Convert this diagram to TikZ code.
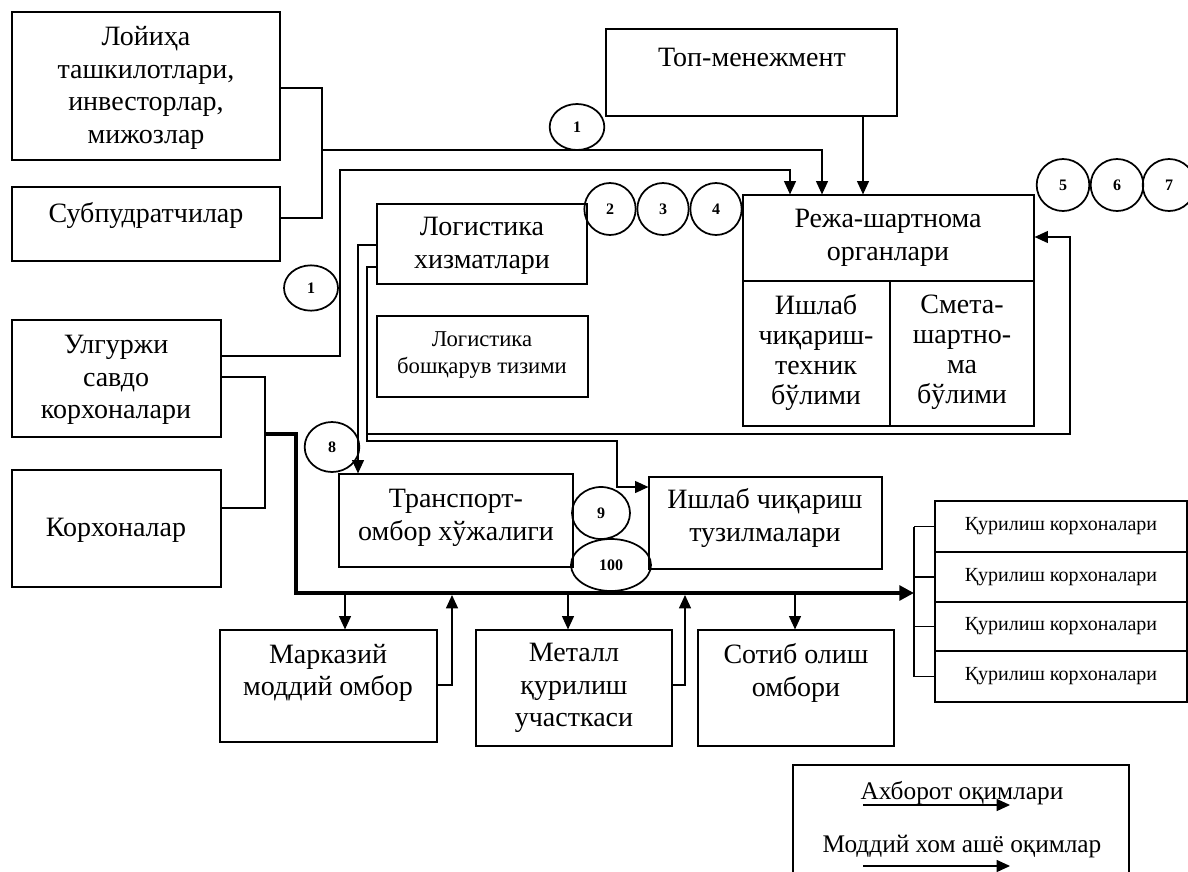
\documentclass[tikz,border=0pt]{standalone}
\usepackage{fontspec}
\setmainfont{Liberation Serif}
\usetikzlibrary{arrows.meta,shapes.geometric,fit}
\begin{document}
\begin{tikzpicture}[x=0.75pt,y=-0.75pt,
  bx/.style={draw, line width=0.9pt, inner sep=0pt},
  txt/.style={align=center, inner sep=0pt, font=\fontsize{21}{24.5}\selectfont},
  smalltxt/.style={align=center, inner sep=0pt, font=\fontsize{17}{20}\selectfont},
  qtxt/.style={align=center, inner sep=0pt, font=\fontsize{15}{18}\selectfont},
  legtxt/.style={align=center, inner sep=0pt, font=\fontsize{19}{22}\selectfont},
  circ/.style={draw, ellipse, line width=1.3pt, inner sep=0pt, font=\fontsize{12}{13}\selectfont\bfseries},
  ln/.style={line width=0.9pt},
  arr/.style={ln, -{Triangle[length=10pt,width=9pt]}},
  thk/.style={line width=3.5pt, -{Triangle[length=11pt,width=11pt]}}]
\useasboundingbox (0,0) rectangle (1188,871);

% boxes
\node[bx, fit={(12,12)(280,160)}] (lo) {};
\node[txt] (tlo) at (146,88) {Лойиҳа\\ташкилотлари,\\инвесторлар,\\мижозлар};
\node[bx, fit={(12,187)(280,261)}] (sub) {};
\node[txt] (tsub) at (146,215) {Субпудратчилар};
\node[bx, fit={(606,29)(897,116)}] (top) {};
\node[txt] (ttop) at (752,57) {Топ-менежмент};
\node[bx, fit={(743,195)(1034,281)}] (rez) {};
\node[txt] (trez) at (888,238) {Режа-шартнома\\органлари};
\node[bx, fit={(743,281)(890,426)}] (rezl) {};
\node[txt, font=\fontsize{21}{22.5}\selectfont] (trezl) at (816,352) {Ишлаб\\чиқариш-\\техник\\бўлими};
\node[bx, fit={(890,281)(1034,426)}] (rezr) {};
\node[txt, font=\fontsize{21}{22.5}\selectfont] (trezr) at (962,352) {Смета-\\шартно-\\ма\\бўлими};
\node[bx, fit={(377,204)(587,284)}] (log) {};
\node[txt] (tlog) at (482,246) {Логистика\\хизматлари};
\node[bx, fit={(377,316)(588,397)}] (lbs) {};
\node[smalltxt] (tlbs) at (482,355) {Логистика\\бошқарув тизими};
\node[bx, fit={(12,320)(221,437)}] (ul) {};
\node[txt] (tul) at (116,380) {Улгуржи\\савдо\\корхоналари};
\node[bx, fit={(12,470)(221,587)}] (kor) {};
\node[txt] (tkor) at (116,530) {Корхоналар};
\node[bx, fit={(339,474)(573,567)}] (tr) {};
\node[txt] (ttr) at (456,518) {Транспорт-\\омбор хўжалиги};
\node[bx, fit={(649,477)(882,569)}] (ish) {};
\node[txt] (tish) at (765,518) {Ишлаб чиқариш\\тузилмалари};
\node[bx, fit={(220,630)(437,742)}] (mar) {};
\node[txt] (tmar) at (328,673) {Марказий\\моддий омбор};
\node[bx, fit={(476,630)(672,746)}] (met) {};
\node[txt] (tmet) at (574,688) {Металл\\қурилиш\\участкаси};
\node[bx, fit={(698,630)(894,746)}] (sot) {};
\node[txt] (tsot) at (796,673) {Сотиб олиш\\омбори};
\node[bx, fit={(935,501)(1187,552)}] (q1) {};
\node[bx, fit={(935,552)(1187,602)}] (q2) {};
\node[bx, fit={(935,602)(1187,651)}] (q3) {};
\node[bx, fit={(935,651)(1187,702)}] (q4) {};
\node[qtxt] (tq1) at (q1.center) {Қурилиш корхоналари};
\node[qtxt] (tq2) at (q2.center) {Қурилиш корхоналари};
\node[qtxt] (tq3) at (q3.center) {Қурилиш корхоналари};
\node[qtxt] (tq4) at (q4.center) {Қурилиш корхоналари};

% circles
\node[circ, minimum width=41pt, minimum height=34.5pt] (c1a) at (577,127) {1};
\node[circ, minimum width=40.5pt, minimum height=34pt] (c1b) at (311,288) {1};
\node[circ, minimum width=38.5pt, minimum height=39pt] (c2) at (610,209) {2};
\node[circ, minimum width=38.5pt, minimum height=39pt] (c3) at (663,209) {3};
\node[circ, minimum width=38.5pt, minimum height=39pt] (c4) at (716,209) {4};
\node[circ, minimum width=39.5pt, minimum height=39pt] (c5) at (1063,185) {5};
\node[circ, minimum width=39.5pt, minimum height=39pt] (c6) at (1117,185) {6};
\node[circ, minimum width=39.5pt, minimum height=39pt] (c7) at (1169,185) {7};
\node[circ, minimum width=41pt, minimum height=37.5pt] (c8) at (332,447) {8};
\node[circ, minimum width=43.5pt, minimum height=39pt] (c9) at (601,513) {9};
\node[circ, minimum width=60pt, minimum height=39pt] (c100) at (611,565) {100};

% connectors (information)
\draw[ln] (lo.east |- 0,88) -- (322,88) -- (322,218) -- (sub.east |- 0,218);
\draw[arr] (322,150) -- (822,150) -- (822,0 |- rez.north);
\draw[arr] (ul.east |- 0,356) -- (340,356) -- (340,170) -- (790,170) -- (790,0 |- rez.north);
\draw[arr] (863,0 |- top.south) -- (863,0 |- rez.north);
\draw[ln] (ul.east |- 0,377) -- (265,377) -- (265,508) -- (kor.east |- 0,508);
\draw[arr] (log.west |- 0,245) -- (358,245) -- (358,0 |- tr.north);
\draw[arr] (log.west |- 0,267) -- (367,267) -- (367,441) -- (617,441) -- (617,487) -- (ish.west |- 0,487);
\draw[arr] (367,434) -- (1070,434) -- (1070,237) -- (rez.east |- 0,237);

% material flow
\coordinate (bk) at (914,593);
\draw[thk] (265,434) -- (296,434) -- (296,593) -- (bk);
\draw[ln] (914,0 |- q1.west) -- (914,0 |- q4.west);
\draw[ln] (914,0 |- q1.west) -- (q1.west);
\draw[ln] (914,0 |- q2.west) -- (q2.west);
\draw[ln] (914,0 |- q3.west) -- (q3.west);
\draw[ln] (914,0 |- q4.west) -- (q4.west);
\draw[arr] (345,593) -- (345,0 |- mar.north);
\draw[arr] (mar.east |- 0,685) -- (452,685) -- (452,595);
\draw[arr] (568,593) -- (568,0 |- met.north);
\draw[arr] (met.east |- 0,685) -- (685,685) -- (685,595);
\draw[arr] (795,593) -- (795,0 |- sot.north);

% legend
\draw[ln] (793,872) -- (793,765) -- (1129,765) -- (1129,872);
\node[legtxt] (lg1) at (962,793) {Ахборот оқимлари};
\node[legtxt] (lg2) at (962,847) {Моддий хом ашё оқимлар};
\coordinate (la1) at (863,805);
\coordinate (la2) at (1010,805);
\coordinate (lb1) at (863,866);
\coordinate (lb2) at (1010,866);
\draw[arr] (la1) -- (la2);
\draw[arr] (lb1) -- (lb2);
\end{tikzpicture}
\end{document}
